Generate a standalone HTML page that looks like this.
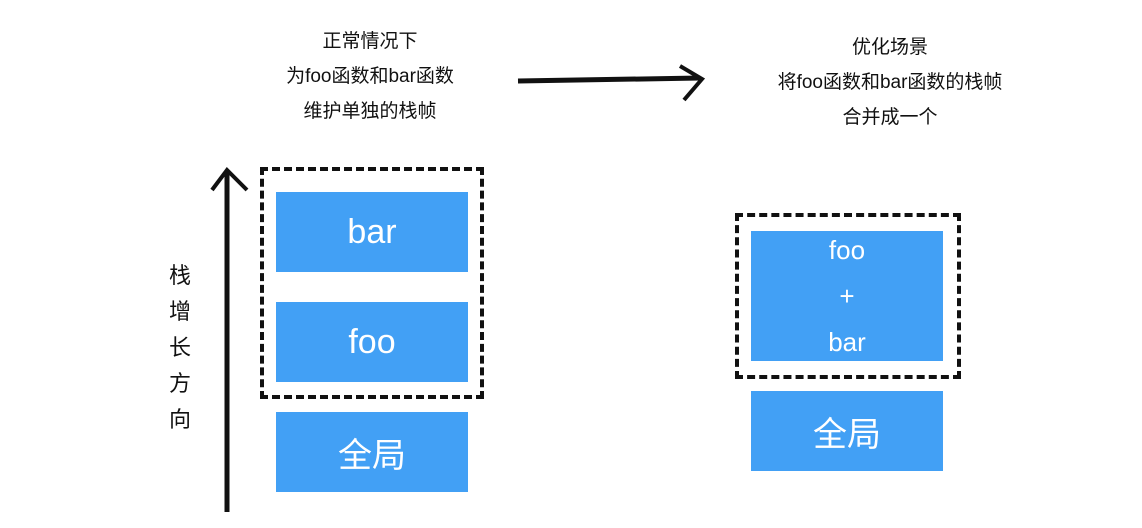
<!DOCTYPE html>
<html><head><meta charset="utf-8"><style>
body{margin:0;width:1142px;height:528px;background:#fff;position:relative;overflow:hidden;font-family:"Liberation Sans","Noto Sans CJK SC",sans-serif}
.b{position:absolute;background:#42a0f5;color:#fff;display:flex;align-items:center;justify-content:center;font-size:34px}
.d{position:absolute;border:4px dashed #111}
.t{position:absolute;text-align:center;font-size:19px;line-height:35px;color:#111}
</style></head><body>
<div class="t" style="left:230px;top:24px;width:280px">正常情况下<br>为foo函数和bar函数<br>维护单独的栈帧</div>
<div class="t" style="left:710px;top:30px;width:360px">优化场景<br>将foo函数和bar函数的栈帧<br>合并成一个</div>
<svg style="position:absolute;left:0;top:0" width="1142" height="528">
<path d="M518 81 L700 78" stroke="#111" stroke-width="5" fill="none"/>
<path d="M680 66 L702 79 L684 100" stroke="#111" stroke-width="4" fill="none"/>
<path d="M227 512 L227 172" stroke="#111" stroke-width="5" fill="none"/>
<path d="M212 190 L227 170 L247 190" stroke="#111" stroke-width="4" fill="none"/>
</svg>
<div class="t" style="left:160px;top:258px;width:40px;font-size:22px;line-height:36px">栈<br>增<br>长<br>方<br>向</div>
<div class="d" style="left:260px;top:167px;width:216px;height:224px"></div>
<div class="b" style="left:276px;top:192px;width:192px;height:80px">bar</div>
<div class="b" style="left:276px;top:302px;width:192px;height:80px">foo</div>
<div class="b" style="left:276px;top:412px;width:192px;height:80px">全局</div>
<div class="d" style="left:735px;top:213px;width:218px;height:158px"></div>
<div class="b" style="left:751px;top:231px;width:192px;height:130px;font-size:26px"><div style="text-align:center;line-height:46px">foo<br>+<br>bar</div></div>
<div class="b" style="left:751px;top:391px;width:192px;height:80px">全局</div>
</body></html>
